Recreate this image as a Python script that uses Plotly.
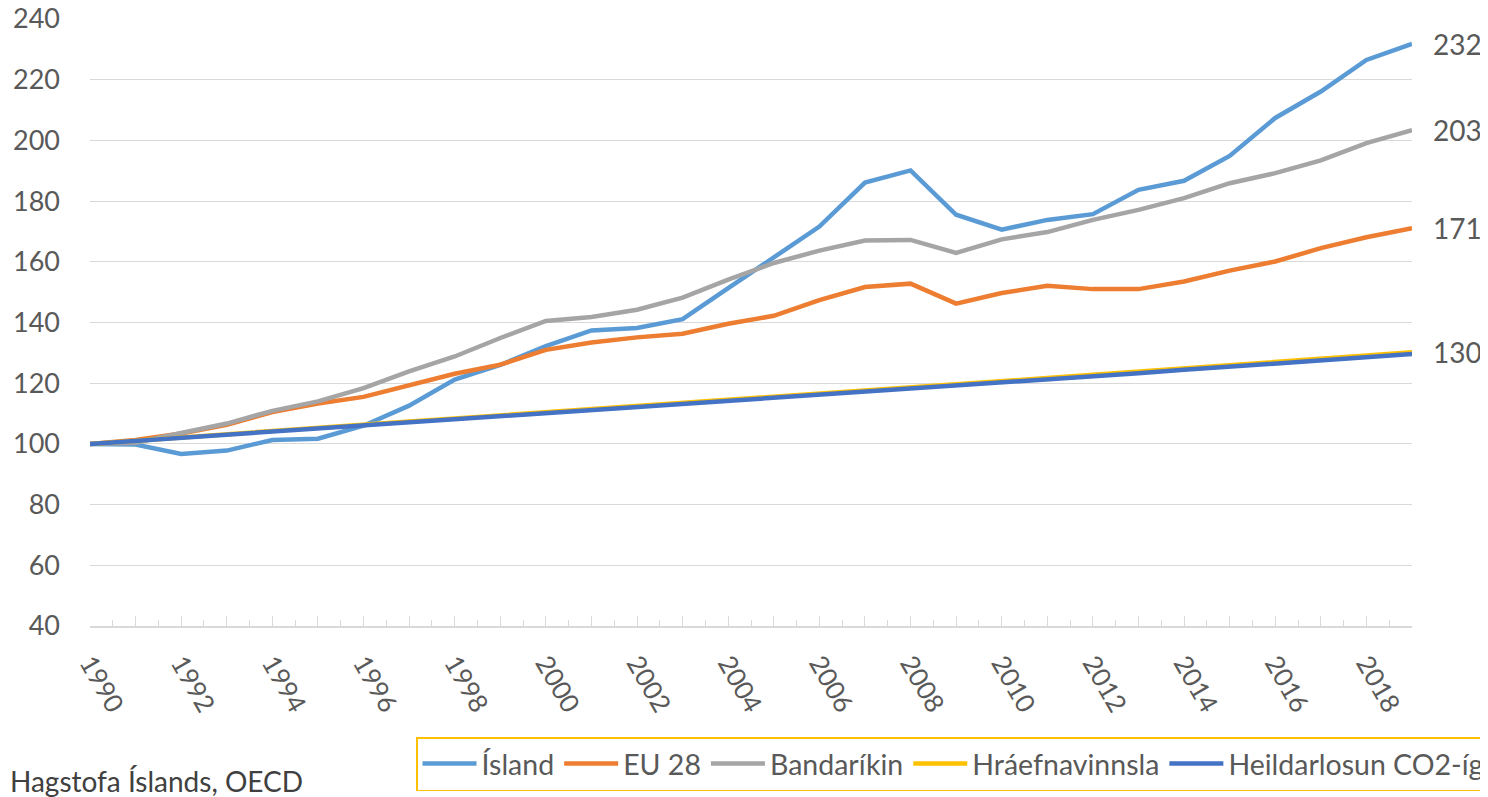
import plotly.graph_objects as go

years = list(range(1990, 2020))
island = [100, 99.8, 96.7, 97.8, 101.3, 101.7, 106.0, 112.6, 121.2, 126.0,
          132.2, 137.4, 138.2, 141.1, 151.3, 161.5, 171.6, 186.1, 190.1, 175.5,
          170.6, 173.8, 175.7, 183.7, 186.7, 194.9, 207.4, 216.1, 226.5, 231.8]
eu28 = [100, 101.3, 103.4, 106.3, 110.5, 113.3, 115.5, 119.2, 123.1, 126.1,
        131.0, 133.4, 135.1, 136.3, 139.6, 142.2, 147.4, 151.7, 152.8, 146.2,
        149.7, 152.1, 151.0, 151.0, 153.5, 157.1, 160.1, 164.5, 168.1, 171.1]
usa = [100, 100.4, 103.6, 106.7, 110.9, 114.0, 118.4, 123.9, 128.8, 134.9,
       140.5, 141.8, 144.2, 148.2, 154.1, 159.6, 163.7, 167.0, 167.2, 162.9,
       167.4, 169.8, 173.8, 177.1, 181.0, 185.9, 189.2, 193.4, 199.1, 203.4]
hraefni = [100, 101.1, 102.1, 103.2, 104.3, 105.3, 106.4, 107.4, 108.4, 109.4,
           110.4, 111.4, 112.4, 113.4, 114.4, 115.5, 116.5, 117.5, 118.6, 119.6,
           120.7, 121.7, 122.8, 123.8, 124.9, 125.9, 127.0, 128.0, 129.1, 130.2]
heild = [100, 101.0, 102.0, 103.0, 104.0, 105.1, 106.1, 107.1, 108.1, 109.1,
         110.1, 111.1, 112.1, 113.1, 114.1, 115.1, 116.1, 117.1, 118.2, 119.2,
         120.3, 121.3, 122.3, 123.3, 124.4, 125.4, 126.4, 127.5, 128.5, 129.6]
end_labels = ["232", "203", "171", "130"]

names = ["Ísland", "EU 28", "Bandaríkin", "Hráefnavinnsla", "Heildarlosun CO2-ígilda"]
colors = ["#5B9BD5", "#ED7D31", "#A5A5A5", "#FFC000", "#4472C4"]
series = [island, eu28, usa, hraefni, heild]

tick_text = [str(y) if y % 2 == 0 else "" for y in years]

FONT = "Lato"
GRAY = "#595959"

# the page body has an 8px margin, so the figure is 8px smaller than the window
W, H = 1480, 789
ML, MR, MT, MB = 82, 76, 11, 171
PW, PH = W - ML - MR, H - MT - MB

fig = go.Figure()
for name, col, vals in zip(names, colors, series):
    fig.add_trace(go.Scatter(x=years, y=vals, name=name, mode="lines",
                             line=dict(color=col, width=4.5)))

for vals, lab in zip([island, usa, eu28, hraefni], end_labels):
    fig.add_annotation(x=years[-1], y=vals[-1], text=lab, showarrow=False,
                       xanchor="left", yanchor="middle", xshift=19,
                       font=dict(family=FONT, size=28, color=GRAY))

fig.add_annotation(xref="paper", yref="paper", x=-ML / PW, y=-(773 - (H - MB)) / PH,
                   xanchor="left", yanchor="middle",
                   text="Hagstofa Íslands, OECD", showarrow=False,
                   font=dict(family=FONT, size=28, color="#404040"))

fig.update_layout(
    width=W, height=H,
    margin=dict(l=ML, r=MR, t=MT, b=MB, autoexpand=False),
    paper_bgcolor="white", plot_bgcolor="white",
    font=dict(family=FONT, color=GRAY, size=27),
    showlegend=True,
    legend=dict(orientation="h", xref="container", yref="container",
                x=408 / W, xanchor="left",
                y=1 - 729 / H, yanchor="top",
                bordercolor="#FFC000", borderwidth=1.5,
                font=dict(family=FONT, size=28.5, color=GRAY),
                itemwidth=54, tracegroupgap=0),
    xaxis=dict(range=[1990, 2019], tickmode="array", tickvals=years, ticktext=tick_text,
               tickangle=60, showgrid=False, zeroline=False, automargin=False,
               showline=True, linecolor="#D9D9D9", linewidth=1.5,
               ticks="inside", ticklen=10, tickwidth=1.3, tickcolor="#D9D9D9",
               minor=dict(ticks="inside", ticklen=6, tickwidth=1.3, tickcolor="#D9D9D9",
                          tick0=1990.5, dtick=1),
               tickfont=dict(family=FONT, size=26, color=GRAY),
               ticklabelstandoff=10),
    yaxis=dict(range=[40, 240], dtick=20, tick0=40, showgrid=True, automargin=False,
               gridcolor="#D9D9D9", gridwidth=1.3, zeroline=False, showline=False,
               ticks="", tickfont=dict(family=FONT, size=27, color=GRAY),
               ticklabelstandoff=29, ticklabeloverflow="allow"),
)

fig.write_html("out.html")
